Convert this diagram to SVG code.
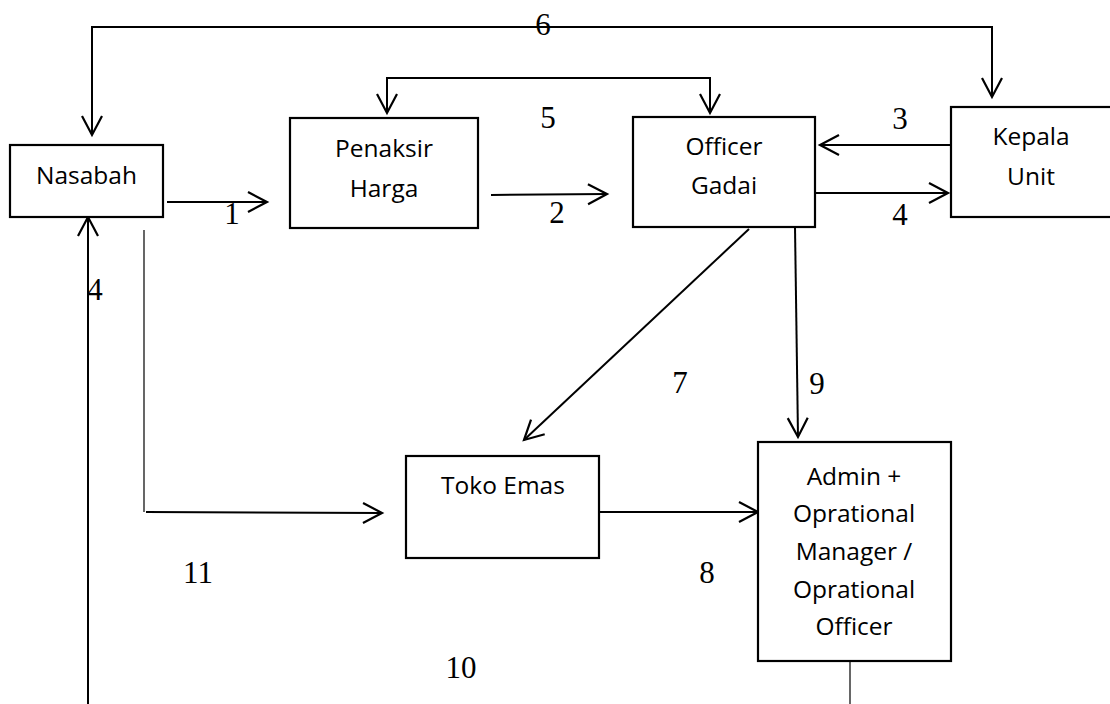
<svg xmlns="http://www.w3.org/2000/svg" width="1110" height="704" viewBox="0 0 1110 704">
<style>
.box{fill:#fff;stroke:#000;stroke-width:2.2}
.lbl{font-family:"Open Sans","Noto Sans",sans-serif;font-size:24.5px;fill:#000;text-anchor:middle}
.num{font-family:"Liberation Serif","Times New Roman",serif;font-size:31px;fill:#000;text-anchor:middle}
.c{fill:none;stroke:#000;stroke-width:2}
.thin{fill:none;stroke:#000;stroke-width:1.2}
</style>
<defs>
<marker id="ah" markerUnits="userSpaceOnUse" markerWidth="26" markerHeight="26" refX="21" refY="12" orient="auto-start-reverse" overflow="visible">
<path d="M2,2 L21,12 L2,22" fill="none" stroke="#000" stroke-width="2.2"/>
</marker>
</defs>
<rect width="1110" height="704" fill="#fff"/>
<g id="connectors">
<polyline class="c" points="92,135 92,27 992,27 992,97" marker-start="url(#ah)" marker-end="url(#ah)"/>
<polyline class="c" points="387,113 387,78 710,78 710,113" marker-start="url(#ah)" marker-end="url(#ah)"/>
<line class="c" x1="167" y1="202" x2="267" y2="202" marker-end="url(#ah)"/>
<line class="c" x1="491" y1="195" x2="607" y2="194" marker-end="url(#ah)"/>
<line class="c" x1="965" y1="145" x2="820" y2="145" marker-end="url(#ah)"/>
<line class="c" x1="802" y1="193" x2="948" y2="193" marker-end="url(#ah)"/>
<line class="c" x1="88" y1="704" x2="88" y2="217" marker-end="url(#ah)"/>
<line class="thin" x1="144" y1="230" x2="144" y2="512"/>
<line class="c" x1="146" y1="512" x2="382" y2="513" marker-end="url(#ah)"/>
<line class="c" x1="749" y1="229" x2="524" y2="440" marker-end="url(#ah)"/>
<line class="c" x1="795" y1="227" x2="798" y2="437" marker-end="url(#ah)"/>
<line class="c" x1="599" y1="512" x2="758" y2="512" marker-end="url(#ah)"/>
<line class="thin" x1="850" y1="661" x2="850" y2="704"/>
</g>
<g id="nasabah">
<rect class="box" x="10" y="145" width="153" height="72"/>
<text class="lbl" x="86.5" y="184">Nasabah</text>
</g>
<g id="penaksir">
<rect class="box" x="290" y="118" width="188" height="110"/>
<text class="lbl" x="384" y="157">Penaksir</text>
<text class="lbl" x="384" y="197">Harga</text>
</g>
<g id="officer">
<rect class="box" x="633" y="117" width="182" height="110"/>
<text class="lbl" x="724" y="155">Officer</text>
<text class="lbl" x="724" y="194">Gadai</text>
</g>
<g id="kepala">
<rect class="box" x="951" y="107" width="170" height="110"/>
<text class="lbl" x="1031" y="145">Kepala</text>
<text class="lbl" x="1031" y="185">Unit</text>
</g>
<g id="toko">
<rect class="box" x="406" y="456" width="193" height="102"/>
<text class="lbl" x="503" y="494">Toko Emas</text>
</g>
<g id="admin">
<rect class="box" x="758" y="442" width="193" height="219"/>
<text class="lbl" x="854" y="485">Admin +</text>
<text class="lbl" x="854" y="522">Oprational</text>
<text class="lbl" x="854" y="560">Manager /</text>
<text class="lbl" x="854" y="598">Oprational</text>
<text class="lbl" x="854" y="635">Officer</text>
</g>
<g id="labels">
<text class="num" x="543" y="35">6</text>
<text class="num" x="548" y="128">5</text>
<text class="num" x="232" y="224">1</text>
<text class="num" x="557" y="223">2</text>
<text class="num" x="900" y="129">3</text>
<text class="num" x="900" y="225">4</text>
<text class="num" x="95" y="300">4</text>
<text class="num" x="680" y="393">7</text>
<text class="num" x="817" y="394">9</text>
<text class="num" x="707" y="583">8</text>
<text class="num" x="198" y="583">11</text>
<text class="num" x="461" y="678">10</text>
</g>
</svg>
